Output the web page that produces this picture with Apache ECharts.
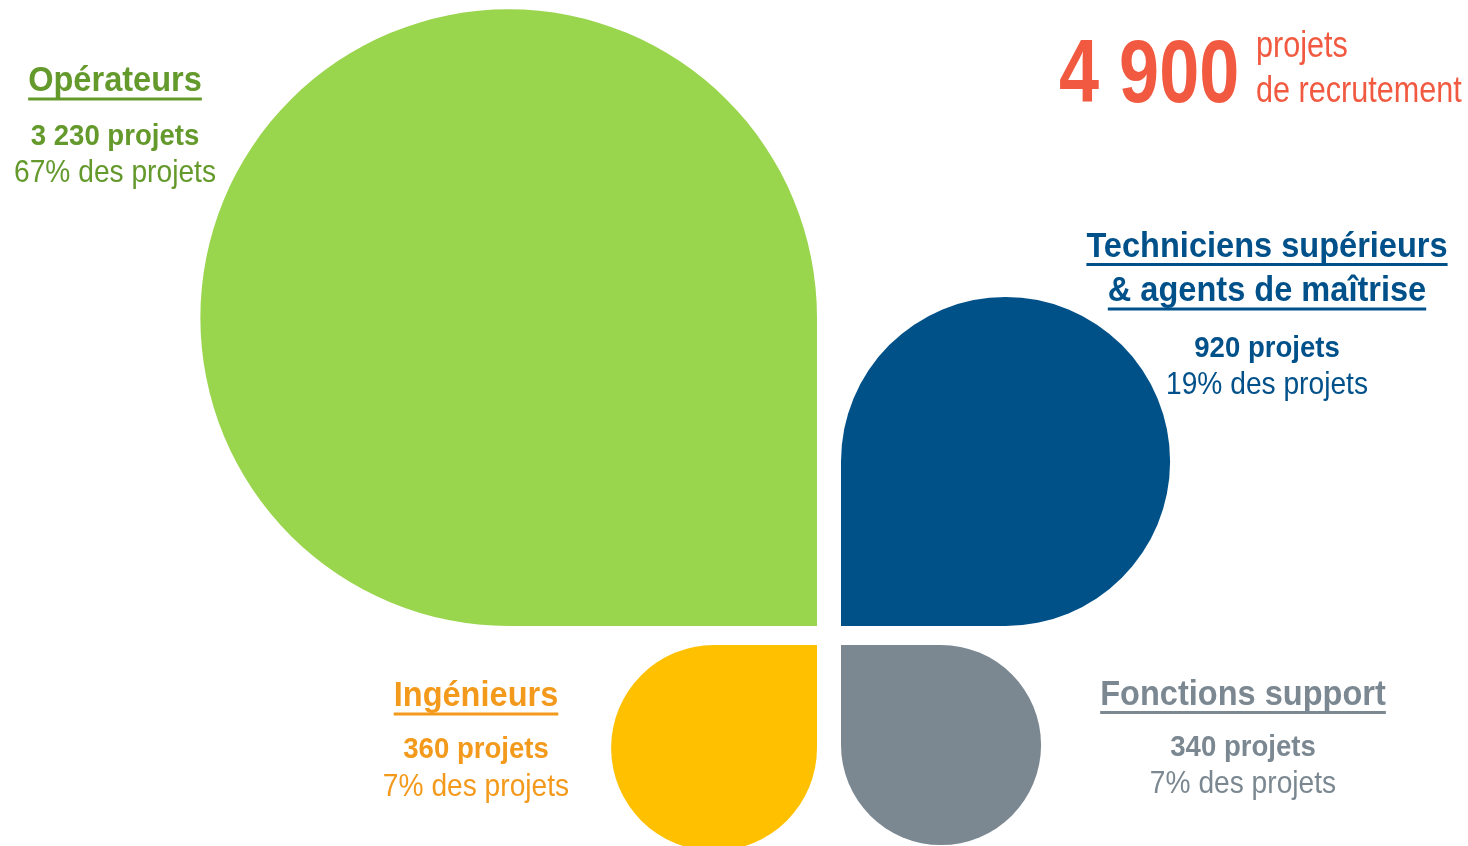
<!DOCTYPE html>
<html>
<head>
<meta charset="utf-8">
<title>Projets de recrutement</title>
<script src="https://cdn.jsdelivr.net/npm/echarts@6/dist/echarts.min.js"></script>
<style>
  html, body { margin: 0; padding: 0; background: #fff; }
  #chart { width: 1468px; height: 846px; }
</style>
</head>
<body>
<div id="chart"></div>
<script>
// données
const categories = ['Opérateurs', 'Techniciens supérieurs\n& agents de maîtrise', 'Ingénieurs', 'Fonctions support']
const values = [3230, 920, 360, 340]
const percents = [67, 19, 7, 7]
const total = 4900

// mise en page : quadrant de chaque feuille (pointe vers le centre)
const quadrant = [[-1, 1], [1, 1], [-1, -1], [1, -1]]
const K = 10.85         // px par racine de projet (aire ~ valeur)
const GAP_X = 12
const GAP_Y = 9.5

const shapeColors = ['#99d54d', '#015189', '#ffc000', '#7b8891']
const textColors = ['#64992c', '#00508a', '#f39a1c', '#7b8891']

const labelX = [115, 1267, 476, 1243]
const titleBase = [[91.5], [257, 301.5], [706.5], [705]]
const countBase = [145, 357, 758, 756.5]
const pctBase = [182, 394, 796.5, 793]

const FONT = '"Liberation Sans", Arial, sans-serif'

const ctx = document.createElement('canvas').getContext('2d')
const measure = (text, font) => { ctx.font = font; return ctx.measureText(text).width }
const fmt = n => String(n).replace(/\B(?=(\d{3})+(?!\d))/g, ' ')

// texte posé sur une ligne de base, compressé horizontalement (police étroite)
const txt = (text, x, base, size, weight, color, sx, align) => ({
  type: 'text',
  x: x,
  y: base - size * 0.28,
  scaleX: sx,
  silent: true,
  style: {
    text: text,
    font: `${weight} ${size}px ${FONT}`,
    fill: color,
    textAlign: align || 'center',
    textVerticalAlign: 'middle'
  }
})

const TITLE = { size: 35, sx: 0.93 }
const COUNT = { size: 29, sx: 0.95 }
const PCT = { size: 32, sx: 0.88 }

const graphics = []
categories.forEach((cat, i) => {
  cat.split('\n').forEach((line, j) => {
    const w = measure(line, `bold ${TITLE.size}px ${FONT}`) * TITLE.sx
    graphics.push(txt(line, labelX[i], titleBase[i][j], TITLE.size, 'bold', textColors[i], TITLE.sx))
    graphics.push({
      type: 'rect',
      silent: true,
      shape: { x: labelX[i] - w / 2, y: titleBase[i][j] + 6, width: w, height: 3 },
      style: { fill: textColors[i] }
    })
  })
  graphics.push(txt(fmt(values[i]) + ' projets', labelX[i], countBase[i], COUNT.size, 'bold', textColors[i], COUNT.sx))
  graphics.push(txt(percents[i] + '% des projets', labelX[i], pctBase[i], PCT.size, 'normal', textColors[i], PCT.sx))
})

// total en haut à droite
graphics.push(txt(fmt(total), 1059, 102, 89, 'bold', '#f15a40', 0.81, 'left'))
graphics.push(txt('projets', 1256, 57, 36, 'normal', '#f15a40', 0.85, 'left'))
graphics.push(txt('de recrutement', 1256, 102, 36, 'normal', '#f15a40', 0.85, 'left'))

const chart = echarts.init(document.getElementById('chart'), null, { renderer: 'canvas' })

chart.setOption({
  backgroundColor: '#ffffff',
  animation: false,
  grid: { left: 0, right: 0, top: 0, bottom: 0, containLabel: false },
  xAxis: { type: 'value', min: -829, max: 639, show: false, splitLine: { show: false } },
  yAxis: { type: 'value', min: -210.5, max: 635.5, show: false, splitLine: { show: false } },
  graphic: graphics,
  series: [
    {
      type: 'custom',
      coordinateSystem: 'cartesian2d',
      clip: false,
      silent: true,
      data: categories.map((c, i) => [values[i], i]),
      encode: { x: -1, y: -1 },
      renderItem: (params, api) => {
        const i = api.value(1)
        const s = Math.sqrt(api.value(0)) * K
        const [qx, qy] = quadrant[i]
        const x0 = qx < 0 ? -GAP_X - s : GAP_X
        const y0 = qy > 0 ? GAP_Y + s : -GAP_Y
        const p1 = api.coord([x0, y0])
        const p2 = api.coord([x0 + s, y0 - s])
        const w = p2[0] - p1[0]
        const h = p2[1] - p1[1]
        const r = Math.min(w, h) / 2
        // [haut-gauche, haut-droite, bas-droite, bas-gauche]
        const rr = [r, r, r, r]
        if (qx < 0 && qy > 0) rr[2] = 0
        if (qx > 0 && qy > 0) rr[3] = 0
        if (qx < 0 && qy < 0) rr[1] = 0
        if (qx > 0 && qy < 0) rr[0] = 0
        return {
          type: 'rect',
          shape: { x: p1[0], y: p1[1], width: w, height: h, r: rr },
          style: { fill: shapeColors[i] }
        }
      }
    }
  ]
})
</script>
</body>
</html>
